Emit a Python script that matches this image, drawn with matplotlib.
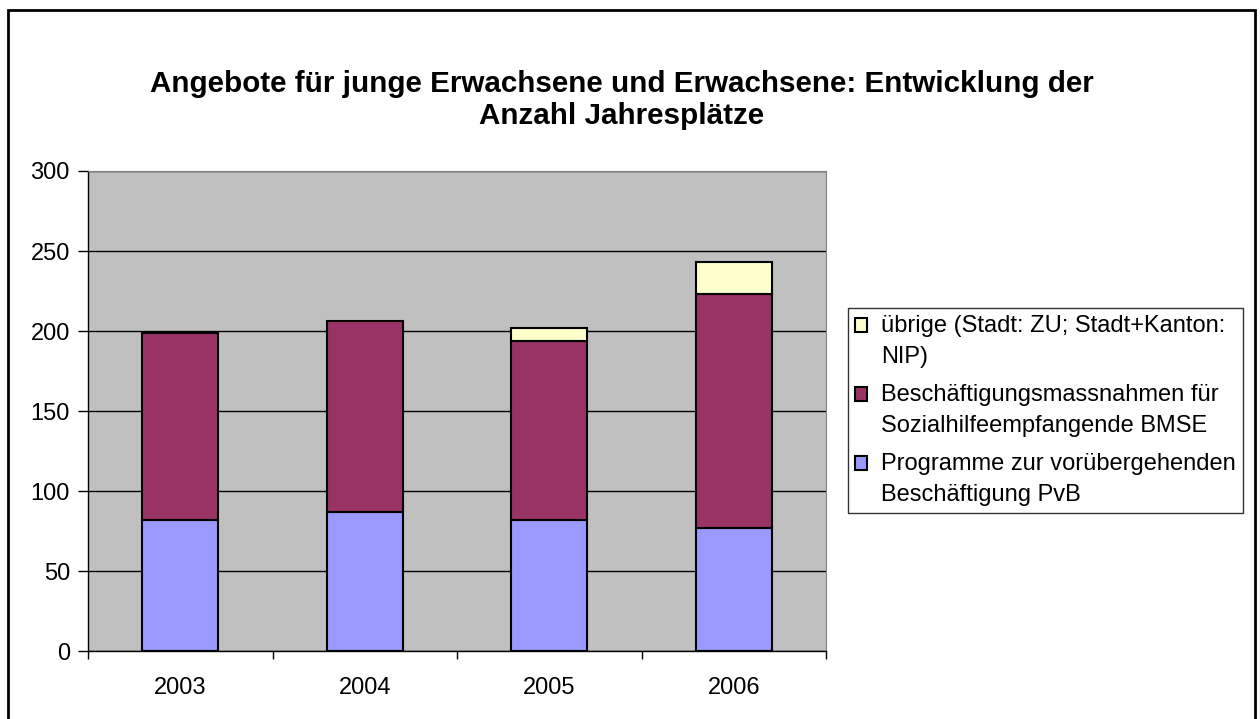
import matplotlib.pyplot as plt
import numpy as np
from matplotlib.patches import Rectangle
from matplotlib.legend_handler import HandlerPatch

years = ['2003', '2004', '2005', '2006']
pvb = [82, 87, 82, 77]
bmse = [117, 119, 112, 146]
uebrige = [0, 0, 8, 20]

lab_pvb = 'Programme zur vorübergehenden\nBeschäftigung PvB'
lab_bmse = 'Beschäftigungsmassnahmen für\nSozialhilfeempfangende BMSE'
lab_ueb = 'übrige (Stadt: ZU; Stadt+Kanton:\nNIP)'

plt.rcParams['font.family'] = ['Liberation Sans', 'DejaVu Sans']

fig = plt.figure(figsize=(12.6, 7.19), dpi=100)
ax = fig.add_axes([88 / 1260, 1 - 651 / 719, 738 / 1260, 480 / 719])

# Rahmen um die ganze Grafik
fig.patches.append(Rectangle((8 / 1260, -0.05), 1247 / 1260, 1.05 - 10 / 719,
                             transform=fig.transFigure, fill=False,
                             edgecolor='black', linewidth=2))

x = np.arange(len(years))
w = 0.41
pvb = np.array(pvb)
bmse = np.array(bmse)
uebrige = np.array(uebrige)

b1 = ax.bar(x, pvb, w, color='#9999FF', edgecolor='black', linewidth=1.5, zorder=3)
b2 = ax.bar(x, bmse, w, bottom=pvb, color='#993366', edgecolor='black', linewidth=1.5, zorder=3)
mask = uebrige > 0
b3 = ax.bar(x[mask], uebrige[mask], w, bottom=(pvb + bmse)[mask], color='#FFFFCC',
            edgecolor='black', linewidth=1.5, zorder=3)

ax.set_facecolor('#C0C0C0')
ax.set_xlim(-0.5, 3.5)
ax.set_ylim(0, 300)
ax.set_yticks(np.arange(0, 301, 50))
ax.yaxis.grid(True, color='black', linewidth=1, zorder=1)
ax.set_axisbelow(True)

ax.set_xticks(x)
ax.set_xticklabels(years)
ax.set_xticks(np.arange(-0.5, 3.6, 1), minor=True)
ax.tick_params(axis='x', which='major', length=0, pad=19, labelsize=17)
ax.tick_params(axis='x', which='minor', length=6, direction='out', width=1)
ax.tick_params(axis='y', length=7, width=1, direction='out', labelsize=17, pad=6)

for s in ['top', 'right']:
    ax.spines[s].set_color('#808080')
for s in ['left', 'bottom']:
    ax.spines[s].set_color('black')
    ax.spines[s].set_linewidth(1)

fig.text(622 / 1260, 1 - 100 / 719,
         'Angebote für junge Erwachsene und Erwachsene: Entwicklung der\nAnzahl Jahresplätze',
         ha='center', va='center', fontsize=21.3, fontweight='bold', linespacing=1.22)


# Legendenkästchen auf Höhe der ersten Textzeile
def top_square(legend, orig_handle, xdescent, ydescent, width, height, fontsize):
    return Rectangle((-xdescent, -ydescent + 12), width, height)


handles = [b3[0], b2[0], b1[0]]
hm = {h: HandlerPatch(patch_func=top_square) for h in handles}
leg = fig.legend(handles, [lab_ueb, lab_bmse, lab_pvb],
                 loc='upper left', bbox_to_anchor=(848 / 1260, 1 - 308 / 719),
                 frameon=True, fancybox=False, fontsize=17, handlelength=0.5,
                 handleheight=0.5, handletextpad=0.6, labelspacing=0.7,
                 borderpad=0.3, borderaxespad=0, handler_map=hm)
for t in leg.get_texts():
    t.set_linespacing(1.5)
leg.get_frame().set_edgecolor('black')
leg.get_frame().set_linewidth(1)

fig.savefig('out.png', dpi=100, facecolor='white')
